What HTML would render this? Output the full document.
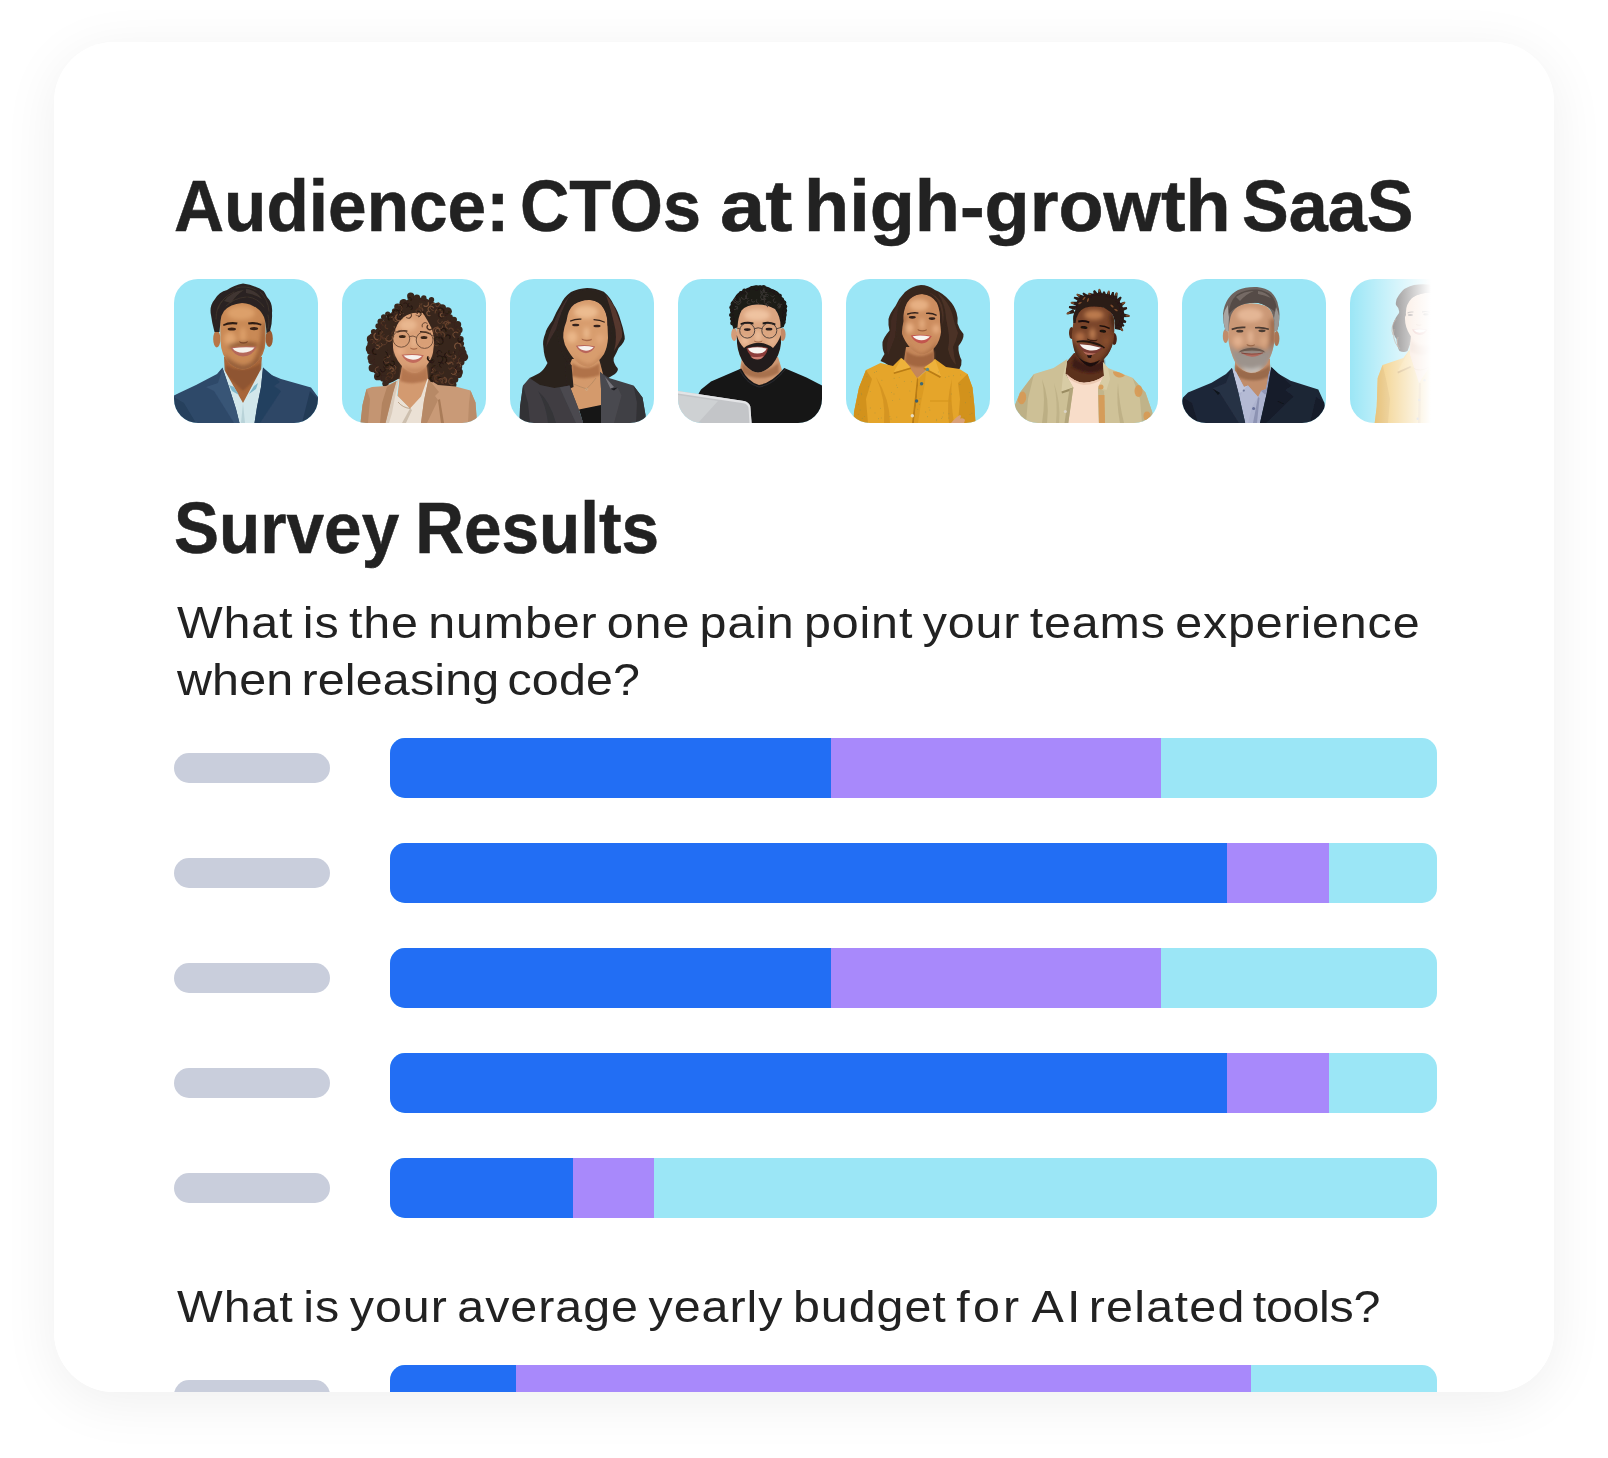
<!DOCTYPE html>
<html lang="en">
<head>
<meta charset="utf-8">
<title>Audience Survey Results</title>
<style>
  html, body { margin: 0; padding: 0; background: #ffffff; }
  body { width: 1608px; height: 1458px; position: relative; overflow: hidden;
         font-family: "Liberation Sans", sans-serif; color: #222222; }
  .card { position: absolute; left: 54px; top: 42px; width: 1500px; height: 1350px;
          background: #ffffff; border-radius: 60px; overflow: hidden; }
  .shadow { position: absolute; left: 54px; top: 42px; width: 1500px; height: 1350px;
          border-radius: 60px; box-shadow: 0 10px 56px rgba(0,0,0,0.065); }
  .abs { position: absolute; white-space: nowrap; }
  .w { position: absolute; top: 0; transform-origin: 0 0; white-space: nowrap; display: block; }
  h1, h2, p { margin: 0; }
  .h { font-weight: 700; font-size: 73px; line-height: 80px; letter-spacing: 0px; transform-origin: 0 0; -webkit-text-stroke: 0.55px #222222; }
  .q { font-weight: 400; font-size: 45px; line-height: 57px; transform-origin: 0 0; transform: scaleX(1.075); letter-spacing: 0.8px; word-spacing: -4.5px; }
  .avatars { position: absolute; left: 120px; top: 237px; width: 1262px; height: 144px; overflow: hidden; }
  .av { position: absolute; top: 0; width: 144px; height: 144px; border-radius: 24px; background: #9be6f6; overflow: hidden; }
  .av svg { display: block; position: absolute; left: 0; top: 0; }
  .fade { position: absolute; left: 1176px; top: 0; width: 90px; height: 144px;
          background: linear-gradient(90deg, rgba(255,255,255,0) 0px, rgba(255,255,255,0.5) 40px, #ffffff 81px); }
  .pill { position: absolute; left: 120px; width: 156px; height: 30px; border-radius: 15px; background: #c9cedc; }
  .bar { position: absolute; left: 336px; width: 1047px; height: 60px; border-radius: 15px; overflow: hidden; background: #9be6f6; }
  .bar i { position: absolute; top: 0; height: 60px; display: block; }
  .b { background: #226ef4; left: 0; }
  .p { background: #a889fb; }
</style>
</head>
<body>
<div class="shadow"></div>
<div class="card">
  <h1 class="abs h" id="t1" style="left:0; top:124px; width:1500px; height:80px;">
    <span class="w" style="left:120px; transform:scaleX(0.950)">Audience:</span>
    <span class="w" style="left:466px; transform:scaleX(0.936)">CTOs</span>
    <span class="w" style="left:666px; transform:scaleX(1.115)">at</span>
    <span class="w" style="left:750px; transform:scaleX(1.012)">high-growth</span>
    <span class="w" style="left:1188px; transform:scaleX(0.960)">SaaS</span>
  </h1>

  <div class="avatars" id="avatars">
    <svg width="0" height="0" style="position:absolute">
      <defs>
        <filter id="b05" x="-10%" y="-10%" width="120%" height="120%"><feGaussianBlur stdDeviation="0.5"/></filter>
        <filter id="b1" x="-20%" y="-20%" width="140%" height="140%"><feGaussianBlur stdDeviation="1"/></filter>
        <filter id="b2" x="-30%" y="-30%" width="160%" height="160%"><feGaussianBlur stdDeviation="2"/></filter>
        <filter id="b4" x="-50%" y="-50%" width="200%" height="200%"><feGaussianBlur stdDeviation="4"/></filter>
      </defs>
    </svg>

    <div class="av" style="left:0px"><svg viewBox="0 0 144 144" width="144" height="144"><g filter="url(#b05)">
  <path d="M50 78 L51 97 L69 125 L86 99 L88 78 Z" fill="#a8663a"/>
  <path d="M52 86 Q69 96 87 84 L86 96 L69 112 L52 96 Z" fill="#8f5530" filter="url(#b1)"/>
  <path d="M48.5 89 L51 92 L69 124 L86 92 L89 88.5 L89 100 L86 118 L81 144 L65 144 L58 118 L50 100 Z" fill="#d2e7eb"/>
  <path d="M55 106 L58 112 L65 116 L60 108 Z M84 104 L82 110 L75 115 L80 107 Z" fill="#7fb8cb"/>
  <path d="M69 124 L71 144 L67 144 Z" fill="#b9d3d9"/>
  <path d="M48.5 88.5 L43 95 L22 106 L5 114 L0 116.5 L0 144 L65.5 144 L62 130 L55 108 Z" fill="#2f4969"/>
  <path d="M89 88.5 L95 95 L107 100 L137 108.5 L144 118 L144 144 L80.5 144 L83 128 L87 108 Z" fill="#2d4666"/>
  <path d="M48.5 89 L55 108 L62 130 L65.5 144 L60 144 L40 112 L32 108 L44 104 Z" fill="#375476"/>
  <path d="M89 88.5 L87 108 L83 128 L80.5 144 L86 144 L107 112 L100 107 L106 103 Z" fill="#24405f"/>
  <path d="M0 118 L10 124 L22 144 L0 144 Z" fill="#26405d"/>
  <path d="M144 120 L136 112 L128 144 L144 144 Z" fill="#233a57"/>
</g>
<g filter="url(#b05)">
  <ellipse cx="42.8" cy="60" rx="3.6" ry="8.5" fill="#b87646"/>
  <ellipse cx="95.2" cy="59.5" rx="3.6" ry="8.5" fill="#9a5a30"/>
  <path d="M46 40 Q46 24 69 23 Q92 24 91.5 42 L91.5 62 Q91 76 82 84 Q75 90.5 69 90.5 Q62 90.5 55 84 Q47 76 46.5 62 Z" fill="#c98954"/>
</g>
<clipPath id="f1"><path d="M46 40 Q46 24 69 23 Q92 24 91.5 42 L91.5 62 Q91 76 82 84 Q75 90.5 69 90.5 Q62 90.5 55 84 Q47 76 46.5 62 Z"/></clipPath>
<g clip-path="url(#f1)"><g filter="url(#b2)">
  <ellipse cx="67" cy="34" rx="14" ry="7" fill="#dda06a"/>
  <ellipse cx="56" cy="60" rx="6" ry="7" fill="#e0a470"/>
  <ellipse cx="69" cy="56" rx="3" ry="8" fill="#dda06a"/>
  <path d="M88 44 L92 44 L91 70 L82 85 L78 84 Q88 70 88 44 Z" fill="#9a5c32"/>
  <path d="M50 74 Q56 84 69 87 Q82 85 88 72 L85 84 Q76 92 69 92 Q60 91 53 84 Z" fill="#8b5634"/>
  <path d="M54 66 Q69 61 84 65 L82 68 Q69 65 56 69 Z" fill="#7a4526"/>
</g></g>
<g filter="url(#b05)">
  <path d="M49 45.5 Q55 42 63.5 43.5 L63 45.5 Q55 44.5 49.5 47 Z" fill="#2e1c12"/>
  <path d="M74 43.5 Q81 42 87.5 45 L87 46.5 Q81 44.5 74.5 45.5 Z" fill="#2e1c12"/>
  <ellipse cx="57.8" cy="50" rx="4.2" ry="1.6" fill="#3a2418"/>
  <ellipse cx="80" cy="49.6" rx="4.2" ry="1.6" fill="#3a2418"/>
  <path d="M65 62 Q69 64.5 74 62 L73 64 Q69 65.5 66 64 Z" fill="#7e4a2a"/>
  <path d="M56.5 68.5 Q69 66.5 82.5 67.5 Q79 77 69 77.5 Q60 77 56.5 68.5 Z" fill="#b5675a"/>
  <path d="M58.5 69.2 Q69 67.8 80.5 68.6 Q77 73.6 69 73.8 Q61.5 73.6 58.5 69.2 Z" fill="#f6f1ec"/>
</g>
<g filter="url(#b05)">
  <path d="M40.5 53 Q38 44 37 36 Q35 27 41 20 Q45 13 53 11 Q60 6 69 4.5 Q76 5 82 8 Q90 10 93 18 Q99 24 98 34 Q98.5 44 96 52 L92.5 54 Q92 44 90 38 Q87 32 84 30 Q76 24 68 24 Q56 25 50 32 Q47 36 46.5 42 L45.5 53 Z" fill="#2a2320"/>
  <path d="M50 22 Q58 12 70 11 Q62 16 57 24 Z M72 10 Q82 11 88 20 Q80 15 72 14 Z" fill="#4a3e38" opacity="0.7"/>
  <path d="M44 30 Q48 18 60 13 M42 40 Q42 28 48 22 M62 9 Q72 6 82 11 M86 13 Q94 20 95 32 M94 36 Q96 44 94 50 M52 27 Q60 19 72 18 M74 18 Q84 19 90 28" fill="none" stroke="#40352f" stroke-width="0.8" stroke-linecap="round"/>
</g>
</svg></div>
    <div class="av" style="left:168px"><svg viewBox="0 0 144 144" width="144" height="144"><g filter="url(#b05)">
<path d="M69.2 18.0 L83.2 18.9 L96.2 25.4 L105.5 32.7 L112.9 41.9 L116.6 51.1 L118.0 60.3 L119.4 69.5 L121.3 78.7 L118.5 87.9 L115.2 96.2 L110.1 104.5 L101.8 107.2 L92.5 104.5 L88.0 100.0 L56.0 100.0 L51.5 102.6 L44.6 105.4 L35.7 96.2 L31.1 87.9 L29.7 78.7 L28.3 69.5 L28.3 61.2 L32.0 53.0 L39.4 43.8 L46.9 35.5 L56.2 28.1 Z" fill="#38251b"/>
<circle cx="68.7" cy="17.0" r="3.6" fill="#38251b"/>
<circle cx="74.9" cy="18.6" r="3.2" fill="#38251b"/>
<circle cx="81.8" cy="18.9" r="2.7" fill="#38251b"/>
<circle cx="89.5" cy="20.8" r="2.7" fill="#38251b"/>
<circle cx="96.0" cy="26.3" r="2.8" fill="#38251b"/>
<circle cx="100.0" cy="29.4" r="4.1" fill="#38251b"/>
<circle cx="105.7" cy="32.4" r="4.2" fill="#38251b"/>
<circle cx="107.8" cy="38.4" r="3.1" fill="#38251b"/>
<circle cx="111.9" cy="40.8" r="3.1" fill="#38251b"/>
<circle cx="115.7" cy="45.6" r="3.5" fill="#38251b"/>
<circle cx="117.1" cy="50.7" r="3.5" fill="#38251b"/>
<circle cx="116.0" cy="54.4" r="2.9" fill="#38251b"/>
<circle cx="118.6" cy="60.1" r="3.1" fill="#38251b"/>
<circle cx="119.0" cy="64.8" r="3.1" fill="#38251b"/>
<circle cx="120.3" cy="70.1" r="3.0" fill="#38251b"/>
<circle cx="120.6" cy="74.2" r="4.0" fill="#38251b"/>
<circle cx="122.0" cy="78.1" r="4.2" fill="#38251b"/>
<circle cx="118.7" cy="83.1" r="3.8" fill="#38251b"/>
<circle cx="117.5" cy="87.9" r="2.7" fill="#38251b"/>
<circle cx="117.4" cy="92.9" r="3.5" fill="#38251b"/>
<circle cx="116.4" cy="95.6" r="3.7" fill="#38251b"/>
<circle cx="113.0" cy="100.6" r="3.3" fill="#38251b"/>
<circle cx="111.1" cy="105.8" r="3.4" fill="#38251b"/>
<circle cx="106.4" cy="104.5" r="3.7" fill="#38251b"/>
<circle cx="102.2" cy="108.7" r="3.9" fill="#38251b"/>
<circle cx="96.5" cy="105.5" r="3.7" fill="#38251b"/>
<circle cx="91.0" cy="104.4" r="2.9" fill="#38251b"/>
<circle cx="89.1" cy="100.9" r="3.8" fill="#38251b"/>
<circle cx="43.5" cy="104.6" r="3.2" fill="#38251b"/>
<circle cx="41.3" cy="99.5" r="3.3" fill="#38251b"/>
<circle cx="35.9" cy="97.4" r="3.9" fill="#38251b"/>
<circle cx="34.5" cy="91.4" r="3.3" fill="#38251b"/>
<circle cx="30.7" cy="89.1" r="4.1" fill="#38251b"/>
<circle cx="29.3" cy="82.3" r="3.0" fill="#38251b"/>
<circle cx="28.9" cy="78.7" r="3.5" fill="#38251b"/>
<circle cx="28.3" cy="72.6" r="3.3" fill="#38251b"/>
<circle cx="27.9" cy="69.7" r="4.1" fill="#38251b"/>
<circle cx="28.9" cy="65.4" r="3.6" fill="#38251b"/>
<circle cx="28.8" cy="59.9" r="4.0" fill="#38251b"/>
<circle cx="31.0" cy="58.2" r="3.9" fill="#38251b"/>
<circle cx="31.7" cy="52.7" r="2.8" fill="#38251b"/>
<circle cx="36.1" cy="47.0" r="2.7" fill="#38251b"/>
<circle cx="38.6" cy="42.7" r="3.1" fill="#38251b"/>
<circle cx="41.8" cy="38.1" r="2.8" fill="#38251b"/>
<circle cx="45.7" cy="35.1" r="2.6" fill="#38251b"/>
<circle cx="52.7" cy="32.1" r="2.8" fill="#38251b"/>
<circle cx="55.4" cy="27.7" r="3.2" fill="#38251b"/>
<circle cx="61.6" cy="24.1" r="4.2" fill="#38251b"/>
</g>
<g filter="url(#b05)">
<path d="M61 82 L84 82 L86 100 L80 118 L68 130 L55.5 117 L57.5 100 Z" fill="#d39a70"/>
<path d="M60 88 Q72 99 85 88 L86 101 Q72 107 58 102 Z" fill="#b4764f" filter="url(#b1)"/>
<path d="M57 99.5 L55 116.5 L68 129.5 L79 117.5 L85.5 99.5 L87 101 L83 122 L79.5 144 L43 144 L51 114 L54.5 102 Z" fill="#ebe1d5"/>
<path d="M57 100 L53 118 L50 134 L47 144 L43 144 L51 114 L54.5 102 Z" fill="#d9cbbb"/>
<path d="M68 129.5 L60 144 L64 144 L70 131 Z" fill="#cdbfae"/>
<path d="M56 123 Q61 129 68.5 129.5" stroke="#8c6a45" stroke-width="0.5" fill="none"/>
<path d="M54.5 102 L44 107 L30 108 L24.5 110 L20.5 126 L18.5 144 L43.5 144 L51 114 Z" fill="#c49572"/>
<path d="M54.5 102 L51 114 L43.5 144 L38 144 L40 124 L45 108 Z" fill="#b2835f"/>
<path d="M24.5 110 L20.5 126 L18.5 144 L26 144 L28 120 Z" fill="#b58764"/>
<path d="M86.5 100 L96 106 L113.5 107.5 L128.5 111.5 L133.5 123.5 L135 144 L79 144 L82 121.5 Z" fill="#c99a77"/>
<path d="M86.5 100 L82 121.5 L79 144 L85 144 L96 121 L93 117 L97 113 Z" fill="#b78966"/>
<path d="M96 121 L99 144 L102 144 L98 120 Z" fill="#a97b58"/>
<path d="M128.5 111.5 L133.5 123.5 L135 144 L126 144 L127 124 Z" fill="#ba8c69"/>
</g>
<g filter="url(#b05)">
<path d="M53 44 Q60 34 78 33 Q90 36 92 52 L92 66 Q91.5 78 85 86 Q78 94 73 94 Q66 94 59 86 Q52 78 50.5 66 Q49 54 53 44 Z" fill="#d99f76"/>
</g>
<g filter="url(#b2)">
<ellipse cx="66" cy="46" rx="9" ry="6" fill="#e9b78f"/>
<ellipse cx="58" cy="72" rx="5" ry="5" fill="#e6ab84"/>
<ellipse cx="84" cy="73" rx="4.5" ry="5" fill="#e0a37a"/>
<ellipse cx="72" cy="63" rx="2.5" ry="6" fill="#e9b78f"/>
<path d="M60 86 Q73 95 86 85 L82 92 Q73 97 64 92 Z" fill="#bd8059"/>
</g>
<g filter="url(#b05)">
<path d="M55 52.5 Q60 50 65.5 51.5 L65.3 52.8 Q60 51.6 55.3 53.8 Z" fill="#3b2518"/>
<path d="M78 52 Q84 51.5 88.5 54.5 L88 55.6 Q84 53.2 78.2 53.4 Z" fill="#3b2518"/>
<ellipse cx="60.3" cy="57.6" rx="3.4" ry="1.5" fill="#3a2519"/>
<ellipse cx="82" cy="58.6" rx="3.4" ry="1.5" fill="#3a2519"/>
<path d="M68 68.5 Q71.5 70.5 75.5 68.8 L75 70 Q71.5 71.6 68.5 69.8 Z" fill="#a86a48"/>
<path d="M59.5 75.8 Q71 74 81.8 76.2 Q78 84 71 84 Q63.5 83.5 59.5 75.8 Z" fill="#c26b5b"/>
<path d="M61.5 76.6 Q71 75.2 80 76.9 Q77 80.6 71 80.7 Q65 80.5 61.5 76.6 Z" fill="#f7f2ee"/>
<circle cx="59.3" cy="59.8" r="8.4" fill="none" stroke="#6a4935" stroke-width="0.9"/>
<circle cx="82.6" cy="61" r="8.4" fill="none" stroke="#6a4935" stroke-width="0.9"/>
<path d="M67.4 57.6 Q71 56 74.6 58.4" fill="none" stroke="#6a4935" stroke-width="0.9"/>
<path d="M51 58.5 L48 57.5 M91 60 L94 59" stroke="#6a4935" stroke-width="0.8"/>
</g>
<g filter="url(#b05)">
<path d="M52 47 Q50 38 56 30 Q62 22 72 20 Q84 20 92 28 Q98 36 97 50 Q99 62 96 72 Q98 84 92 96 L88 100 Q92 86 91.5 72 Q93 60 90 50 Q86 42 81 34 Q70 32 62 38 Q56 42 53.5 50 Z" fill="#38251b"/>
<path d="M53.5 50 Q50 58 51 68 Q50 80 56 92 L56 100 L48 100 Q44 84 46 70 Q45 56 52 47 Z" fill="#38251b"/>
</g>
<g fill="none" stroke-linecap="round" filter="url(#b05)">
<path d="M60.1 39.8 A3.3 3.3 0 0 1 55.1 36.6" stroke="#241610" stroke-width="0.8"/>
<path d="M112.0 82.7 A2.3 2.3 0 0 1 113.9 78.8" stroke="#553523" stroke-width="1.0"/>
<path d="M105.4 41.6 A2.2 2.2 0 1 1 102.4 43.5" stroke="#553523" stroke-width="1.2"/>
<path d="M106.5 85.2 A2.2 2.2 0 0 1 110.9 85.4" stroke="#5e3d2a" stroke-width="1.3"/>
<path d="M104.1 56.9 A2.1 2.1 0 0 1 107.7 59.2" stroke="#241610" stroke-width="1.3"/>
<path d="M61.4 34.6 A2.2 2.2 0 0 1 59.0 31.0" stroke="#5e3d2a" stroke-width="1.0"/>
<path d="M90.2 89.9 A2.0 2.0 0 1 1 90.3 93.3" stroke="#553523" stroke-width="1.0"/>
<path d="M41.7 88.2 A2.4 2.4 0 1 1 38.5 90.6" stroke="#241610" stroke-width="1.0"/>
<path d="M39.1 64.2 A1.8 1.8 0 1 1 37.0 67.0" stroke="#6a452f" stroke-width="1.0"/>
<path d="M114.4 96.4 A2.2 2.2 0 0 1 113.8 92.2" stroke="#553523" stroke-width="1.2"/>
<path d="M101.6 98.8 A3.0 3.0 0 1 1 98.7 104.0" stroke="#4c3021" stroke-width="1.0"/>
<path d="M69.2 27.0 A1.8 1.8 0 0 1 69.1 30.4" stroke="#241610" stroke-width="1.1"/>
<path d="M94.8 61.5 A2.7 2.7 0 1 1 91.9 65.2" stroke="#5e3d2a" stroke-width="0.8"/>
<path d="M48.8 87.7 A2.7 2.7 0 1 1 52.5 91.2" stroke="#6a452f" stroke-width="1.0"/>
<path d="M95.9 102.9 A3.5 3.5 0 1 1 97.3 96.1" stroke="#553523" stroke-width="1.2"/>
<path d="M94.9 92.8 A3.4 3.4 0 1 1 93.1 86.5" stroke="#241610" stroke-width="0.8"/>
<path d="M37.7 56.3 A2.7 2.7 0 0 1 39.2 51.3" stroke="#241610" stroke-width="0.8"/>
<path d="M46.0 101.3 A2.0 2.0 0 1 1 48.0 98.7" stroke="#4c3021" stroke-width="0.9"/>
<path d="M37.2 49.9 A3.4 3.4 0 0 1 35.5 56.5" stroke="#4c3021" stroke-width="1.0"/>
<path d="M58.0 41.4 A3.2 3.2 0 1 1 58.5 35.8" stroke="#7a5138" stroke-width="1.3"/>
<path d="M90.5 90.2 A2.0 2.0 0 0 1 89.5 93.7" stroke="#6a452f" stroke-width="1.0"/>
<path d="M37.4 65.2 A2.2 2.2 0 0 1 33.5 63.5" stroke="#5e3d2a" stroke-width="0.8"/>
<path d="M77.1 28.7 A2.6 2.6 0 0 1 80.2 32.7" stroke="#5e3d2a" stroke-width="1.3"/>
<path d="M75.1 32.9 A2.6 2.6 0 1 1 76.7 37.7" stroke="#241610" stroke-width="1.0"/>
<path d="M55.3 34.0 A2.2 2.2 0 1 1 56.0 30.2" stroke="#4c3021" stroke-width="0.9"/>
<path d="M102.3 37.1 A2.1 2.1 0 1 1 100.3 34.0" stroke="#7a5138" stroke-width="1.1"/>
<path d="M41.0 46.1 A2.0 2.0 0 1 1 42.6 42.7" stroke="#553523" stroke-width="1.0"/>
<path d="M51.4 33.2 A2.9 2.9 0 1 1 56.0 36.0" stroke="#241610" stroke-width="1.2"/>
<path d="M96.7 58.8 A2.3 2.3 0 0 1 100.7 60.7" stroke="#241610" stroke-width="1.1"/>
<path d="M107.7 90.4 A3.3 3.3 0 1 1 110.6 95.4" stroke="#553523" stroke-width="0.8"/>
<path d="M50.3 38.0 A2.6 2.6 0 1 1 47.9 34.3" stroke="#6a452f" stroke-width="1.1"/>
<path d="M50.0 82.2 A2.2 2.2 0 1 1 48.2 85.3" stroke="#241610" stroke-width="1.2"/>
<path d="M87.7 32.7 A2.9 2.9 0 1 1 91.5 28.7" stroke="#7a5138" stroke-width="1.1"/>
<path d="M38.8 58.7 A2.7 2.7 0 0 1 34.5 61.3" stroke="#553523" stroke-width="1.1"/>
<path d="M86.3 23.7 A2.7 2.7 0 0 1 82.0 26.7" stroke="#7a5138" stroke-width="1.2"/>
<path d="M93.2 33.9 A3.4 3.4 0 0 1 98.5 30.8" stroke="#5e3d2a" stroke-width="1.3"/>
<path d="M91.6 52.9 A3.1 3.1 0 0 1 96.7 49.5" stroke="#6a452f" stroke-width="1.2"/>
<path d="M49.4 39.6 A2.7 2.7 0 0 1 47.1 34.7" stroke="#241610" stroke-width="1.2"/>
<path d="M111.3 73.1 A3.4 3.4 0 1 1 104.6 74.7" stroke="#6a452f" stroke-width="0.7"/>
<path d="M97.7 53.5 A3.2 3.2 0 0 1 102.2 57.8" stroke="#5e3d2a" stroke-width="1.2"/>
<path d="M79.8 29.9 A2.5 2.5 0 0 1 79.9 24.9" stroke="#7a5138" stroke-width="0.9"/>
<path d="M49.5 61.3 A3.0 3.0 0 1 1 46.3 56.5" stroke="#6a452f" stroke-width="0.8"/>
<path d="M119.9 59.5 A2.2 2.2 0 1 1 116.3 59.4" stroke="#241610" stroke-width="1.0"/>
<path d="M78.1 34.2 A2.1 2.1 0 0 1 82.2 35.1" stroke="#241610" stroke-width="0.9"/>
<path d="M98.9 51.7 A2.5 2.5 0 0 1 104.0 52.2" stroke="#241610" stroke-width="1.2"/>
<path d="M91.4 51.9 A2.4 2.4 0 1 1 88.1 54.0" stroke="#4c3021" stroke-width="0.7"/>
<path d="M94.9 100.0 A2.7 2.7 0 0 1 99.7 100.3" stroke="#241610" stroke-width="1.3"/>
<path d="M107.1 32.5 A2.1 2.1 0 0 1 103.7 34.4" stroke="#241610" stroke-width="0.8"/>
<path d="M34.9 66.3 A1.9 1.9 0 1 1 33.8 69.2" stroke="#7a5138" stroke-width="1.0"/>
<path d="M47.9 90.2 A1.8 1.8 0 1 1 49.8 92.4" stroke="#7a5138" stroke-width="1.3"/>
<path d="M90.6 102.8 A2.7 2.7 0 0 1 89.1 97.8" stroke="#241610" stroke-width="1.1"/>
<path d="M69.2 34.9 A3.0 3.0 0 0 1 64.7 38.6" stroke="#5e3d2a" stroke-width="1.1"/>
<path d="M100.7 47.1 A2.5 2.5 0 0 1 95.7 47.6" stroke="#6a452f" stroke-width="0.8"/>
<path d="M47.7 86.9 A2.3 2.3 0 1 1 43.2 87.9" stroke="#4c3021" stroke-width="1.2"/>
<path d="M40.3 58.7 A3.1 3.1 0 0 1 40.6 52.9" stroke="#6a452f" stroke-width="1.3"/>
<path d="M56.8 25.4 A3.5 3.5 0 0 1 59.6 31.1" stroke="#241610" stroke-width="1.2"/>
<path d="M113.5 69.4 A3.2 3.2 0 1 1 119.0 67.2" stroke="#7a5138" stroke-width="1.2"/>
<path d="M109.9 88.6 A1.9 1.9 0 0 1 106.5 89.2" stroke="#5e3d2a" stroke-width="0.9"/>
<path d="M100.9 104.0 A2.4 2.4 0 1 1 103.5 101.0" stroke="#5e3d2a" stroke-width="0.9"/>
<path d="M100.3 42.3 A2.3 2.3 0 1 1 96.3 40.7" stroke="#6a452f" stroke-width="0.7"/>
<path d="M50.2 57.5 A3.5 3.5 0 0 1 43.5 59.8" stroke="#7a5138" stroke-width="1.2"/>
<path d="M96.8 23.7 A2.2 2.2 0 1 1 93.8 27.0" stroke="#6a452f" stroke-width="1.0"/>
<path d="M62.0 24.3 A2.5 2.5 0 1 1 64.8 28.5" stroke="#241610" stroke-width="0.8"/>
<path d="M65.8 19.4 A1.9 1.9 0 0 1 69.1 21.3" stroke="#241610" stroke-width="1.0"/>
<path d="M95.3 56.7 A2.2 2.2 0 1 1 99.4 55.4" stroke="#553523" stroke-width="1.1"/>
<path d="M112.9 76.1 A2.0 2.0 0 0 1 111.2 79.7" stroke="#7a5138" stroke-width="0.9"/>
<path d="M100.3 32.6 A2.2 2.2 0 0 1 98.9 28.5" stroke="#553523" stroke-width="0.9"/>
<path d="M73.9 30.9 A3.3 3.3 0 1 1 73.9 36.2" stroke="#6a452f" stroke-width="0.7"/>
<path d="M28.3 61.0 A2.1 2.1 0 1 1 30.3 64.4" stroke="#5e3d2a" stroke-width="0.8"/>
<path d="M45.7 49.6 A2.1 2.1 0 0 1 43.8 46.0" stroke="#553523" stroke-width="1.2"/>
<path d="M107.0 50.0 A2.5 2.5 0 0 1 111.3 51.7" stroke="#5e3d2a" stroke-width="1.2"/>
<path d="M94.9 54.0 A2.3 2.3 0 1 1 98.0 51.7" stroke="#7a5138" stroke-width="1.1"/>
<path d="M115.9 50.4 A1.8 1.8 0 1 1 114.2 53.3" stroke="#553523" stroke-width="0.9"/>
<path d="M69.7 27.0 A2.0 2.0 0 1 1 66.8 24.4" stroke="#241610" stroke-width="1.0"/>
<path d="M89.6 50.0 A2.7 2.7 0 0 1 85.7 46.3" stroke="#4c3021" stroke-width="1.3"/>
<path d="M36.7 59.4 A3.2 3.2 0 0 1 31.1 62.2" stroke="#4c3021" stroke-width="1.2"/>
<path d="M95.3 77.6 A3.4 3.4 0 1 1 96.7 83.5" stroke="#241610" stroke-width="1.1"/>
<path d="M45.5 59.0 A2.8 2.8 0 1 1 42.3 55.5" stroke="#4c3021" stroke-width="0.9"/>
<path d="M97.1 100.8 A1.9 1.9 0 1 1 99.7 103.2" stroke="#5e3d2a" stroke-width="1.1"/>
<path d="M104.5 78.6 A2.4 2.4 0 0 1 104.3 73.9" stroke="#241610" stroke-width="1.0"/>
<path d="M43.8 88.7 A3.2 3.2 0 0 1 49.1 85.6" stroke="#241610" stroke-width="0.9"/>
<path d="M102.4 98.4 A3.0 3.0 0 0 1 103.6 103.6" stroke="#6a452f" stroke-width="1.3"/>
<path d="M101.7 92.9 A2.1 2.1 0 1 1 97.5 93.1" stroke="#4c3021" stroke-width="1.1"/>
<path d="M95.9 30.4 A3.3 3.3 0 0 1 101.6 33.6" stroke="#241610" stroke-width="1.2"/>
<path d="M49.1 93.2 A2.1 2.1 0 1 1 52.1 95.0" stroke="#553523" stroke-width="1.1"/>
<path d="M88.1 36.6 A2.5 2.5 0 0 1 86.4 31.9" stroke="#7a5138" stroke-width="1.1"/>
<path d="M80.2 47.9 A3.2 3.2 0 0 1 85.1 44.2" stroke="#5e3d2a" stroke-width="0.9"/>
<path d="M99.1 88.3 A2.2 2.2 0 1 1 101.1 84.5" stroke="#241610" stroke-width="1.0"/>
<path d="M47.9 76.6 A1.8 1.8 0 0 1 44.3 76.9" stroke="#6a452f" stroke-width="1.0"/>
<path d="M109.4 83.2 A2.6 2.6 0 0 1 104.4 82.7" stroke="#7a5138" stroke-width="0.9"/>
<path d="M103.0 36.3 A3.4 3.4 0 1 1 96.8 33.7" stroke="#241610" stroke-width="0.8"/>
<path d="M34.1 75.3 A3.0 3.0 0 0 1 32.1 69.7" stroke="#241610" stroke-width="1.2"/>
<path d="M119.4 90.0 A3.1 3.1 0 1 1 114.5 87.3" stroke="#241610" stroke-width="0.7"/>
<path d="M91.2 31.5 A3.6 3.6 0 1 1 93.4 24.8" stroke="#6a452f" stroke-width="0.9"/>
<path d="M100.7 77.7 A3.3 3.3 0 0 1 103.3 83.6" stroke="#241610" stroke-width="1.1"/>
<path d="M77.7 24.4 A3.4 3.4 0 0 1 75.5 30.7" stroke="#4c3021" stroke-width="1.1"/>
<path d="M54.5 31.9 A3.4 3.4 0 1 1 57.4 37.8" stroke="#241610" stroke-width="1.0"/>
<path d="M44.3 102.3 A3.2 3.2 0 1 1 49.8 99.2" stroke="#4c3021" stroke-width="0.8"/>
<path d="M92.1 82.4 A3.1 3.1 0 1 1 86.9 78.9" stroke="#241610" stroke-width="0.8"/>
<path d="M91.6 96.7 A3.2 3.2 0 0 1 93.5 102.7" stroke="#553523" stroke-width="0.8"/>
<path d="M113.2 90.2 A2.9 2.9 0 1 1 109.5 94.6" stroke="#7a5138" stroke-width="1.0"/>
<path d="M35.2 93.6 A3.0 3.0 0 0 1 36.3 87.8" stroke="#7a5138" stroke-width="0.7"/>
<path d="M47.1 41.1 A3.1 3.1 0 0 1 50.7 36.1" stroke="#241610" stroke-width="1.2"/>
<path d="M101.0 44.6 A3.1 3.1 0 0 1 106.9 44.7" stroke="#6a452f" stroke-width="1.0"/>
<path d="M51.8 57.1 A2.7 2.7 0 1 1 54.7 52.9" stroke="#5e3d2a" stroke-width="0.7"/>
<path d="M46.8 83.1 A2.7 2.7 0 1 1 43.7 78.9" stroke="#6a452f" stroke-width="1.0"/>
<path d="M115.0 84.0 A2.6 2.6 0 0 1 118.3 87.8" stroke="#7a5138" stroke-width="0.9"/>
<path d="M119.4 59.5 A2.5 2.5 0 0 1 116.5 63.4" stroke="#241610" stroke-width="0.8"/>
<path d="M112.8 58.4 A2.8 2.8 0 1 1 115.4 53.5" stroke="#7a5138" stroke-width="1.0"/>
<path d="M35.6 60.5 A3.4 3.4 0 0 1 33.5 54.3" stroke="#7a5138" stroke-width="1.2"/>
<path d="M112.7 72.5 A3.1 3.1 0 1 1 106.9 71.5" stroke="#241610" stroke-width="0.8"/>
<path d="M56.3 25.8 A3.6 3.6 0 0 1 59.4 31.6" stroke="#6a452f" stroke-width="0.8"/>
<path d="M55.8 41.8 A2.3 2.3 0 1 1 54.4 38.1" stroke="#7a5138" stroke-width="0.8"/>
<path d="M92.6 61.7 A2.9 2.9 0 0 1 97.4 58.8" stroke="#241610" stroke-width="0.7"/>
<path d="M45.1 95.4 A3.1 3.1 0 1 1 49.3 99.6" stroke="#553523" stroke-width="1.1"/>
<path d="M88.6 98.0 A3.0 3.0 0 0 1 94.1 99.8" stroke="#4c3021" stroke-width="1.1"/>
<path d="M95.6 75.3 A2.3 2.3 0 1 1 99.6 73.3" stroke="#241610" stroke-width="1.0"/>
<path d="M90.5 102.1 A3.4 3.4 0 0 1 90.7 95.9" stroke="#241610" stroke-width="1.2"/>
<path d="M46.2 86.4 A3.5 3.5 0 0 1 43.4 80.0" stroke="#241610" stroke-width="1.0"/>
<path d="M99.4 59.6 A3.0 3.0 0 1 1 96.1 64.5" stroke="#241610" stroke-width="1.1"/>
<path d="M41.0 59.0 A3.5 3.5 0 1 1 40.5 65.8" stroke="#5e3d2a" stroke-width="0.9"/>
<path d="M90.8 80.6 A2.8 2.8 0 0 1 86.0 77.7" stroke="#241610" stroke-width="1.3"/>
<path d="M75.3 34.4 A3.2 3.2 0 0 1 79.2 29.4" stroke="#4c3021" stroke-width="1.3"/>
<path d="M43.7 72.7 A3.1 3.1 0 0 1 43.1 78.5" stroke="#241610" stroke-width="1.0"/>
<path d="M36.7 93.1 A2.4 2.4 0 0 1 34.6 97.4" stroke="#241610" stroke-width="1.1"/>
<path d="M105.4 49.2 A3.0 3.0 0 1 1 108.3 44.0" stroke="#6a452f" stroke-width="1.1"/>
<path d="M111.8 104.9 A3.2 3.2 0 1 1 110.4 99.2" stroke="#5e3d2a" stroke-width="1.1"/>
<path d="M42.5 59.2 A3.2 3.2 0 0 1 40.7 53.0" stroke="#4c3021" stroke-width="1.1"/>
<path d="M112.4 79.8 A2.0 2.0 0 0 1 109.5 77.1" stroke="#4c3021" stroke-width="1.0"/>
<path d="M119.1 83.4 A2.2 2.2 0 1 1 117.6 79.2" stroke="#5e3d2a" stroke-width="0.8"/>
</g></svg></div>
    <div class="av" style="left:336px"><svg viewBox="0 0 144 144" width="144" height="144"><g filter="url(#b05)">
  <path d="M77 9 Q68 9.5 61 13 Q54 18 51 25 Q46 33 42.5 41.5 Q36 50 35.5 54 Q32 62 33.5 69 Q34 78 37.5 84 Q34 91 29.5 94 Q24 97 19.5 99 L30 112 L44.5 114 L60 112 L90 104 L105 95 Q109 91 107.5 89 Q103 84 103.7 79 Q107 73 108.6 69 Q116 62 114.6 57 Q113 48 110.6 41.5 Q108 32 103.7 25.7 Q100 18 93.8 12.8 Q86 9 77 9 Z" fill="#2c211f"/>
  <path d="M96 16 Q104 24 108 38 Q113 50 112 58 Q108 66 104 72 Q108 58 104 44 Q101 30 96 16 Z" fill="#5e3d30" opacity="0.85"/>
  <path d="M60 16 Q50 28 44 44 Q38 56 36 68 Q40 60 46 50 Q50 34 60 16 Z" fill="#4a3630" opacity="0.7"/>
</g>
<g filter="url(#b05)">
  <path d="M62 80 L58 90 L58 110 L68 132 L93 128 L93 95 L89 80 Z" fill="#d49a6c"/>
  <path d="M62 84 Q76 94 89.5 84 L90 96 Q76 102 62 97 Z" fill="#b0724a" filter="url(#b1)"/>
  <path d="M55 84 L61.5 86 L63.5 108 L57 111 Z" fill="#2c211f"/>
  <path d="M69 130.5 L91 126 L91 144 L73 144 Z" fill="#131315"/>
  <path d="M63.5 105 Q70 108 76.5 109.8 Q82 105 86 99" fill="none" stroke="#9a7c5a" stroke-width="0.45"/>
  <circle cx="76.6" cy="110.4" r="1.1" fill="none" stroke="#c9b79a" stroke-width="0.45"/>
  <path d="M19.5 99 L13 106.5 L10 128 L9.5 144 L73.2 144 L68 128.5 L59.5 106.5 L44.5 109 L30 106 Z" fill="#3f3e43"/>
  <path d="M59.5 106.5 L68 128.5 L73.2 144 L66 144 L55 120 L50 108.5 Z" fill="#4b4a50"/>
  <path d="M13 106.5 L10 128 L9.5 144 L20 144 L18 124 Z" fill="#323136"/>
  <path d="M28 112 Q40 122 46 144 L38 144 Q36 126 28 112 Z" fill="#353439"/>
  <path d="M90 93 L99 99 L123.5 106.5 L132.5 118.5 L135.5 136 L135.5 144 L91 144 L91 110 Z" fill="#403f44"/>
  <path d="M90 93 L96 98 L104 108 L100.5 109.8 L107.7 108.6 L111.5 116.5 L104 144 L91 144 L91 110 Z" fill="#4a494f"/>
  <path d="M95 98 L104 108 L100.5 109.8 Z" fill="#77767c"/>
  <path d="M100.5 109.8 L107.7 108.6 L104 111.5 Z" fill="#1d1d20"/>
  <path d="M123.5 106.5 L132.5 118.5 L135.5 136 L135.5 144 L126 144 L127 124 Z" fill="#323136"/>
</g>
<g filter="url(#b05)">
  <path d="M55.5 40 Q58 28 64 25 Q72 20 80 20.5 Q90 22 93.5 29 Q98 36 97.5 46 L98 59 Q97.5 68 94 75 Q88 84 79.5 88 Q72 88 66 82 Q60 76 55 66 Q52 58 52.5 50 Z" fill="#d89d6e"/>
</g>
<clipPath id="f3"><path d="M55.5 40 Q58 28 64 25 Q72 20 80 20.5 Q90 22 93.5 29 Q98 36 97.5 46 L98 59 Q97.5 68 94 75 Q88 84 79.5 88 Q72 88 66 82 Q60 76 55 66 Q52 58 52.5 50 Z"/></clipPath>
<g clip-path="url(#f3)"><g filter="url(#b2)">
  <ellipse cx="76" cy="33" rx="12" ry="6.5" fill="#ecbc90"/>
  <ellipse cx="62" cy="58" rx="5.5" ry="6" fill="#eab688"/>
  <ellipse cx="90" cy="60" rx="4" ry="5" fill="#e2a97c"/>
  <ellipse cx="76.5" cy="54" rx="2.6" ry="6" fill="#ecbc90"/>
  <path d="M62 76 Q72 86 80 86 Q90 82 95 70 L92 80 Q84 90 78 89 Q68 88 62 76 Z" fill="#b87a50"/>
</g></g>
<g filter="url(#b05)">
  <path d="M60 41.5 Q65.5 39 71.5 39.6 L71.3 40.8 Q65.5 40.5 60.3 42.8 Z" fill="#33211a"/>
  <path d="M83.5 40 Q90 40 95 42.8 L94.6 43.8 Q90 41.4 83.7 41.3 Z" fill="#33211a"/>
  <ellipse cx="65.7" cy="46" rx="3.6" ry="1.3" fill="#35221b"/>
  <ellipse cx="87" cy="47" rx="3.6" ry="1.3" fill="#35221b"/>
  <path d="M71.5 59.5 Q76.5 62 82 59.8 L81.5 61.2 Q76.5 63.2 72 61 Z" fill="#a86846"/>
  <path d="M65.8 66.8 Q76 65 85.2 67.6 Q82 74 76 74.2 Q69.5 73.8 65.8 66.8 Z" fill="#b9655a"/>
  <path d="M67.6 67.6 Q76 66.2 83.6 68.2 Q80.8 71.6 76 71.7 Q70.5 71.4 67.6 67.6 Z" fill="#f7f2ee"/>
</g>
<g filter="url(#b05)">
  <path d="M56.5 42 Q58 30 64 25.5 Q72 20.5 80 21 Q90 22 94 30 Q97.5 37 97.5 46 Q100 52 99 62 Q104 50 102 38 Q99 24 92 16 Q84 10 76 11 Q64 12 57 22 Q51 32 49 44 Q46 56 50 66 Q52 76 58 84 L62 88 Q56 76 54 66 Q51.5 54 56.5 42 Z" fill="#2c211f"/>
</g>
</svg></div>
    <div class="av" style="left:504px"><svg viewBox="0 0 144 144" width="144" height="144"><g filter="url(#b05)">
<path d="M64 78 L62 91 Q70 106 81 108 Q94 106 104 91 L100 78 Z" fill="#cf9872"/>
<path d="M64 84 Q81 100 100.5 84 L101 94 Q82 104 64 94 Z" fill="#a8714e" filter="url(#b1)"/>
<path d="M63.2 89.5 Q70 103 81 106 Q94 104 106.2 89 L128.5 98.5 L144 106.5 L144 144 L20 144 L20.7 114.5 L23 110.5 L33 102.5 Z" fill="#151517"/>
<path d="M61.5 90.5 Q69 105 81 108 Q95 106 107.5 90" fill="none" stroke="#2a2a2d" stroke-width="1.2"/>
<path d="M0 112 L66 122 Q71 123 72.3 127.5 L73.6 144 L0 144 Z" fill="#c3c5c8"/>
<path d="M0 112 L66 122 Q71 123 72.3 127.5 L73.6 144 L71.5 144 L70.5 128.5 Q69.5 125 65.5 124.2 L0 114.5 Z" fill="#e3e4e6"/>
<path d="M0 116 L40 122 L20 144 L0 144 Z" fill="#d3d5d7" opacity="0.7"/>
</g>
<g filter="url(#b05)">
<ellipse cx="56.2" cy="55.5" rx="3" ry="6.5" fill="#d49c78"/>
<ellipse cx="104.6" cy="55.5" rx="3" ry="6.5" fill="#c48a66"/>
<path d="M58.5 40 Q60 28 70 26 Q80 24 92 26 Q102 29 103 42 L103 62 Q102 76 94 86 Q86 93.5 80 93.5 Q74 93.5 67 86 Q60 76 59 62 Z" fill="#dba580"/>
</g>
<clipPath id="f4"><path d="M58.5 40 Q60 28 70 26 Q80 24 92 26 Q102 29 103 42 L103 62 Q102 76 94 86 Q86 93.5 80 93.5 Q74 93.5 67 86 Q60 76 59 62 Z"/></clipPath>
<g clip-path="url(#f4)"><g filter="url(#b2)">
<ellipse cx="79" cy="36" rx="13" ry="6" fill="#efc3a0"/>
<ellipse cx="67" cy="62" rx="4.5" ry="4" fill="#efbf9b"/>
<ellipse cx="94" cy="62" rx="4.5" ry="4" fill="#e6b38e"/>
<ellipse cx="80" cy="57" rx="2.5" ry="6" fill="#efc3a0"/>
</g></g>
<g filter="url(#b05)">
<path d="M58.8 56 Q61 64 66 69 Q68 66.5 72 65.5 Q80 62 89 65.5 Q93 66.5 95 69 Q100 64 102.8 56 L103 64 Q102 76 94 86 Q86 93.5 80 93.5 Q74 93.5 67 86 Q60 76 59 64 Z" fill="#241d1a"/>
<path d="M68.5 69 Q80 66 90 69 Q88 79.5 79.5 79.5 Q71 79 68.5 69 Z" fill="#8d3e3a"/>
<path d="M69.8 69.4 Q80 67.2 88.8 69.6 Q86.5 74.4 79.5 74.6 Q72.5 74.2 69.8 69.4 Z" fill="#f8f4f0"/>
<path d="M72.5 77.2 Q79.5 79 86 77 Q83.5 80.5 79.5 80.6 Q75 80.4 72.5 77.2 Z" fill="#cf7f72"/>
<path d="M62.5 44.2 Q69 41.6 75.5 43.6 L75.3 45.4 Q69 43.6 62.8 46 Z" fill="#1f1917"/>
<path d="M84.5 43.6 Q91 41.6 97.5 44.6 L97.2 46.4 Q91 43.8 84.8 45.4 Z" fill="#1f1917"/>
<ellipse cx="69.3" cy="50.6" rx="3.4" ry="1.4" fill="#2a1f1b"/>
<ellipse cx="91" cy="50.2" rx="3.4" ry="1.4" fill="#2a1f1b"/>
<path d="M76 61.5 Q80 63.5 84.5 61.6 L84 62.8 Q80 64.6 76.4 62.8 Z" fill="#a8704e"/>
<circle cx="69.2" cy="51.6" r="7.5" fill="none" stroke="#3a322f" stroke-width="0.85"/>
<circle cx="91.3" cy="51.6" r="7.5" fill="none" stroke="#3a322f" stroke-width="0.85"/>
<path d="M76.6 49.6 Q80.2 48 83.9 49.6" fill="none" stroke="#3a322f" stroke-width="0.85"/>
<path d="M61.8 49.8 L56.2 48.2 M98.7 49.8 L103.6 48.2" stroke="#3a322f" stroke-width="0.8"/>
</g>
<g filter="url(#b05)">
<path d="M55.5 50 Q52 42 52.5 34 Q51 26 55.5 20 Q60 12 68 10 Q74 5.5 80 6.5 Q88 6 94 10 Q101 12 104 18 Q109.5 24 108.5 30 Q109 40 105.8 48 L102.5 49 Q103 38 97 30 Q88 25 79 25.5 Q68 26 63.5 31.5 Q60 38 59.5 48 Z" fill="#1c1a19"/>
<circle cx="54.4" cy="44.1" r="2.3" fill="#1c1a19"/>
<circle cx="54.0" cy="40.0" r="2.1" fill="#1c1a19"/>
<circle cx="53.1" cy="36.0" r="2.1" fill="#1c1a19"/>
<circle cx="53.9" cy="31.5" r="1.8" fill="#1c1a19"/>
<circle cx="53.5" cy="28.4" r="2.2" fill="#1c1a19"/>
<circle cx="55.0" cy="24.6" r="2.4" fill="#1c1a19"/>
<circle cx="57.7" cy="20.6" r="1.7" fill="#1c1a19"/>
<circle cx="59.4" cy="17.0" r="1.6" fill="#1c1a19"/>
<circle cx="62.6" cy="13.7" r="1.6" fill="#1c1a19"/>
<circle cx="66.5" cy="11.9" r="2.3" fill="#1c1a19"/>
<circle cx="70.0" cy="10.7" r="2.0" fill="#1c1a19"/>
<circle cx="74.2" cy="8.9" r="1.8" fill="#1c1a19"/>
<circle cx="78.6" cy="8.9" r="2.3" fill="#1c1a19"/>
<circle cx="82.2" cy="8.0" r="1.8" fill="#1c1a19"/>
<circle cx="85.7" cy="8.1" r="2.2" fill="#1c1a19"/>
<circle cx="89.9" cy="10.4" r="1.9" fill="#1c1a19"/>
<circle cx="94.5" cy="11.9" r="1.6" fill="#1c1a19"/>
<circle cx="97.7" cy="14.0" r="2.0" fill="#1c1a19"/>
<circle cx="102.1" cy="16.4" r="1.7" fill="#1c1a19"/>
<circle cx="104.2" cy="20.3" r="1.8" fill="#1c1a19"/>
<circle cx="106.0" cy="23.8" r="2.4" fill="#1c1a19"/>
<circle cx="107.5" cy="27.5" r="1.8" fill="#1c1a19"/>
<circle cx="106.9" cy="31.5" r="2.2" fill="#1c1a19"/>
<circle cx="106.6" cy="36.1" r="2.0" fill="#1c1a19"/>
<circle cx="106.1" cy="40.3" r="1.7" fill="#1c1a19"/>
<circle cx="105.7" cy="43.5" r="1.9" fill="#1c1a19"/>
</g>
<g fill="none" stroke-linecap="round" filter="url(#b05)">
<path d="M67.5 12.1 A2.8 2.8 0 0 1 67.4 17.3" stroke="#3d3835" stroke-width="0.9"/>
<path d="M88.7 13.8 A2.8 2.8 0 0 1 85.9 9.4" stroke="#3d3835" stroke-width="0.9"/>
<path d="M96.3 16.7 A1.9 1.9 0 0 1 93.0 16.8" stroke="#3d3835" stroke-width="0.9"/>
<path d="M83.6 15.8 A2.3 2.3 0 0 1 86.1 12.0" stroke="#3d3835" stroke-width="0.9"/>
<path d="M102.1 27.9 A1.8 1.8 0 1 1 101.1 24.4" stroke="#3d3835" stroke-width="0.9"/>
<path d="M101.5 28.6 A2.3 2.3 0 0 1 103.8 25.3" stroke="#3d3835" stroke-width="0.9"/>
<path d="M57.4 27.5 A1.8 1.8 0 0 1 59.4 30.2" stroke="#3d3835" stroke-width="0.9"/>
<path d="M98.0 23.2 A1.9 1.9 0 1 1 96.6 19.7" stroke="#3d3835" stroke-width="0.9"/>
<path d="M87.5 17.5 A2.7 2.7 0 0 1 84.1 14.4" stroke="#3d3835" stroke-width="0.9"/>
<path d="M70.2 19.8 A1.6 1.6 0 0 1 68.2 17.4" stroke="#3d3835" stroke-width="0.9"/>
<path d="M86.1 10.5 A2.0 2.0 0 1 1 82.6 11.9" stroke="#3d3835" stroke-width="0.9"/>
<path d="M90.3 25.3 A2.3 2.3 0 0 1 86.6 24.0" stroke="#3d3835" stroke-width="0.9"/>
<path d="M59.2 27.5 A2.4 2.4 0 0 1 56.3 30.5" stroke="#3d3835" stroke-width="0.9"/>
<path d="M86.8 21.4 A2.4 2.4 0 1 1 90.0 18.0" stroke="#3d3835" stroke-width="0.9"/>
<path d="M61.7 19.0 A2.5 2.5 0 1 1 57.5 21.5" stroke="#3d3835" stroke-width="0.9"/>
<path d="M89.6 27.8 A2.7 2.7 0 1 1 93.0 23.7" stroke="#3d3835" stroke-width="0.9"/>
<path d="M101.6 25.3 A2.0 2.0 0 1 1 99.8 28.9" stroke="#3d3835" stroke-width="0.9"/>
<path d="M82.9 21.1 A2.0 2.0 0 0 1 86.4 23.0" stroke="#3d3835" stroke-width="0.9"/>
<path d="M62.0 20.5 A2.8 2.8 0 1 1 57.7 24.0" stroke="#3d3835" stroke-width="0.9"/>
<path d="M87.3 19.6 A2.6 2.6 0 1 1 83.1 16.5" stroke="#3d3835" stroke-width="0.9"/>
<path d="M57.8 23.7 A2.1 2.1 0 1 1 57.5 19.5" stroke="#3d3835" stroke-width="0.9"/>
<path d="M80.8 24.6 A2.7 2.7 0 0 1 78.5 20.6" stroke="#3d3835" stroke-width="0.9"/>
<path d="M71.9 24.8 A1.8 1.8 0 1 1 71.0 21.5" stroke="#3d3835" stroke-width="0.9"/>
<path d="M87.8 20.6 A2.7 2.7 0 1 1 90.4 16.0" stroke="#3d3835" stroke-width="0.9"/>
<path d="M68.1 16.7 A2.5 2.5 0 1 1 63.4 18.3" stroke="#3d3835" stroke-width="0.9"/>
<path d="M76.5 22.7 A1.9 1.9 0 0 1 73.7 20.2" stroke="#3d3835" stroke-width="0.9"/>
</g></svg></div>
    <div class="av" style="left:672px"><svg viewBox="0 0 144 144" width="144" height="144"><g filter="url(#b05)">
<path d="M75 6 Q66 7 59 13 Q53 19 49.5 27 Q44 34 42.5 40 Q42 46 43.5 51.5 Q38 58 36.5 63 Q36 70 38.5 75 Q36 79 34.5 82 Q40 84 43.5 87 L46.5 92 L60 92 L100 90 L104 89 Q110 91 113.5 90 Q116 86 115.5 81 Q112 74 112.5 67 Q118 60 117.5 55 Q113 50 111.5 44.5 Q112 38 110.5 33.5 Q108 26 103.5 21.5 Q97 14 89 11 Q82 6 75 6 Z" fill="#38261e"/>
<path d="M92 14 Q102 22 106 34 Q108 44 112 54 Q110 62 107 68 Q108 78 110 86 Q104 80 102 70 Q104 60 102 50 Q100 36 92 14 Z" fill="#5a3a29" opacity="0.6"/>
<path d="M56 18 Q48 30 45 42 Q46 52 42 60 Q40 68 42 76 Q46 66 49 58 Q50 44 56 18 Z" fill="#4a3024" opacity="0.6"/>
</g>
<g filter="url(#b05)">
<path d="M60 68 L58 82 L71 100 L88 84 L87.5 68 Z" fill="#c4865a"/>
<path d="M60 72 Q74 82 88 72 L88 84 Q74 92 59 84 Z" fill="#a3663f" filter="url(#b1)"/>
<path d="M55 79 L47 87 L34.5 84 L20 91 L13 108.5 L8 133 L7.5 144 L129.5 144 L128.5 128 L126.5 108.5 L121.5 95 L113.5 90 L100 88 L89 80 L80 92 L71 99 L64 89 Z" fill="#e5a52b"/>
<path d="M20 91 L13 108.5 L8 133 L7.5 144 L22 144 L20 120 L26 100 Z" fill="#d2921f"/>
<path d="M121.5 95 L126.5 108.5 L128.5 128 L129.5 144 L112 144 L114 120 L112 104 Z" fill="#d2921f"/>
<path d="M30 98 Q40 120 38 144 L44 144 Q44 120 30 98 Z" fill="#cf8f1d" opacity="0.7"/>
<path d="M106 100 Q104 120 108 144 L103 144 Q100 122 106 100 Z" fill="#cf8f1d" opacity="0.7"/>
<path d="M55.5 79 L47.5 93.5 L64.5 88.5 L59 82 Z" fill="#eeb23a"/>
<path d="M89 80 L95 97.5 L78 88.5 L86 83 Z" fill="#eeb23a"/>
<path d="M47.5 93.5 L64.5 88.5 L65 90 L48 95 Z M95 97.5 L78 88.5 L77.5 90 L94 99 Z" fill="#b97c14"/>
<path d="M71 99 L69 118 L66 144 L68 144 L71 118 L72.5 100 Z" fill="#b97c14"/>
<path d="M72.5 100 L80 92 L79 104 L75 124 L72 144 L68 144 L71 118 Z" fill="#dc9b24"/>
<circle cx="75.6" cy="104.7" r="1.7" fill="#3d6b75"/>
<circle cx="70.6" cy="122" r="1.7" fill="#3a5f70"/>
<circle cx="66.3" cy="136.8" r="1.7" fill="#e8dcc0"/>
<circle cx="81.5" cy="90.4" r="1.7" fill="#5d8a86"/>
<path d="M84 121 L105 121 L105 123 L84 123 Z" fill="#d6961f" opacity="0.6"/>
<path d="M105 144 Q110 138 114 136 Q116 137 114 139.5 Q118 138.5 119 141 L118 144 Z" fill="#d9a078"/>
</g>
<g fill="#7c8a55" opacity="0.75">
<circle cx="83.0" cy="128.6" r="0.45"/>
<circle cx="102.7" cy="139.0" r="0.45"/>
<circle cx="96.3" cy="138.0" r="0.45"/>
<circle cx="15.3" cy="114.2" r="0.45"/>
<circle cx="119.5" cy="123.7" r="0.45"/>
<circle cx="114.7" cy="95.9" r="0.45"/>
<circle cx="65.5" cy="102.8" r="0.45"/>
<circle cx="74.0" cy="119.8" r="0.45"/>
<circle cx="43.9" cy="137.6" r="0.45"/>
<circle cx="99.3" cy="98.3" r="0.45"/>
<circle cx="102.9" cy="97.2" r="0.45"/>
<circle cx="12.2" cy="135.3" r="0.45"/>
<circle cx="35.9" cy="101.2" r="0.45"/>
<circle cx="124.0" cy="135.4" r="0.45"/>
<circle cx="45.0" cy="140.0" r="0.45"/>
<circle cx="73.5" cy="125.2" r="0.45"/>
<circle cx="35.3" cy="138.9" r="0.45"/>
<circle cx="90.7" cy="140.3" r="0.45"/>
<circle cx="113.9" cy="105.5" r="0.45"/>
<circle cx="53.2" cy="98.6" r="0.45"/>
<circle cx="28.6" cy="93.4" r="0.45"/>
<circle cx="46.4" cy="121.4" r="0.45"/>
<circle cx="12.4" cy="125.3" r="0.45"/>
<circle cx="50.5" cy="106.1" r="0.45"/>
<circle cx="105.3" cy="115.0" r="0.45"/>
<circle cx="48.0" cy="115.0" r="0.45"/>
<circle cx="92.3" cy="93.0" r="0.45"/>
<circle cx="97.5" cy="133.9" r="0.45"/>
<circle cx="14.1" cy="131.0" r="0.45"/>
<circle cx="53.7" cy="120.1" r="0.45"/>
<circle cx="32.6" cy="139.7" r="0.45"/>
<circle cx="34.4" cy="129.3" r="0.45"/>
<circle cx="118.0" cy="139.0" r="0.45"/>
<circle cx="51.3" cy="108.4" r="0.45"/>
<circle cx="71.8" cy="130.3" r="0.45"/>
<circle cx="24.3" cy="128.9" r="0.45"/>
<circle cx="102.9" cy="134.7" r="0.45"/>
<circle cx="16.2" cy="139.2" r="0.45"/>
<circle cx="22.4" cy="107.7" r="0.45"/>
<circle cx="81.6" cy="137.7" r="0.45"/>
<circle cx="50.8" cy="138.1" r="0.45"/>
<circle cx="74.1" cy="106.2" r="0.45"/>
<circle cx="48.1" cy="99.2" r="0.45"/>
<circle cx="20.9" cy="97.7" r="0.45"/>
<circle cx="90.6" cy="141.8" r="0.45"/>
<circle cx="30.4" cy="92.5" r="0.45"/>
<circle cx="124.5" cy="117.7" r="0.45"/>
<circle cx="58.3" cy="102.3" r="0.45"/>
<circle cx="79.7" cy="133.0" r="0.45"/>
<circle cx="63.9" cy="111.9" r="0.45"/>
<circle cx="18.4" cy="137.6" r="0.45"/>
<circle cx="15.7" cy="115.7" r="0.45"/>
<circle cx="107.6" cy="96.8" r="0.45"/>
<circle cx="95.4" cy="139.4" r="0.45"/>
<circle cx="83.9" cy="131.0" r="0.45"/>
<circle cx="24.2" cy="112.6" r="0.45"/>
<circle cx="29.0" cy="133.9" r="0.45"/>
<circle cx="45.6" cy="113.6" r="0.45"/>
<circle cx="125.9" cy="134.3" r="0.45"/>
<circle cx="123.3" cy="113.6" r="0.45"/>
</g>
<g filter="url(#b05)">
<path d="M57 40 Q58 26 64 20 Q70 15 76 15 Q86 16 91 24 Q94.5 32 94 42 L95 53 Q94 62 89 68 Q82 75.5 75 75.5 Q68 74 62 66 Q56 58 55.5 51 Z" fill="#cc8d5f"/>
</g>
<clipPath id="f5"><path d="M57 40 Q58 26 64 20 Q70 15 76 15 Q86 16 91 24 Q94.5 32 94 42 L95 53 Q94 62 89 68 Q82 75.5 75 75.5 Q68 74 62 66 Q56 58 55.5 51 Z"/></clipPath>
<g clip-path="url(#f5)"><g filter="url(#b2)">
<ellipse cx="73" cy="26" rx="10" ry="6" fill="#e7b083"/>
<ellipse cx="63" cy="49" rx="5" ry="5" fill="#e9b184"/>
<ellipse cx="90" cy="50" rx="3.5" ry="4.5" fill="#e6ac80"/>
<ellipse cx="76" cy="45" rx="2.4" ry="6" fill="#e7b083"/>
<path d="M60 62 Q68 74 76 75 Q86 72 92 60 L90 70 Q82 78 75 78 Q66 76 60 62 Z" fill="#a56940"/>
<path d="M56 36 L60 36 L59 56 L56 56 Z" fill="#a56940"/>
</g></g>
<g filter="url(#b05)">
<path d="M61 34.6 Q66.5 32.4 72.5 33.4 L72.3 34.8 Q66.5 34 61.3 36 Z" fill="#30201a"/>
<path d="M80 33.8 Q86 33 90.8 35.8 L90.4 36.9 Q86 34.6 80.2 35.1 Z" fill="#30201a"/>
<ellipse cx="66.3" cy="38.3" rx="3.5" ry="1.4" fill="#33211a"/>
<ellipse cx="86" cy="39.6" rx="3.3" ry="1.4" fill="#33211a"/>
<path d="M71.5 50 Q76 52.4 81 50.2 L80.6 51.6 Q76 53.6 72 51.4 Z" fill="#9a5f3c"/>
<path d="M64.8 56.4 Q75 54.6 85.8 57 Q82 64.4 75.5 64.4 Q68.5 64 64.8 56.4 Z" fill="#c2544d"/>
<path d="M66.6 57.2 Q75 55.8 84 57.6 Q81 61.2 75.5 61.3 Q70 61 66.6 57.2 Z" fill="#f8f4f0"/>
</g>
<g filter="url(#b05)">
<path d="M57.5 42 Q56 30 62 21 Q68 15 76 15 Q86 15 91 23 Q95 31 94.5 42 Q97 50 95.5 58 Q101 50 100 38 Q99 24 92 15 Q84 8 75 8.5 Q64 9 57 18 Q51 27 51 38 Q49 48 51 58 L56 64 Q55 54 57.5 42 Z" fill="#38261e"/>
<path d="M78 12 Q88 14 93 24 Q97 34 96.5 46 Q99 36 96 26 Q92 15 78 12 Z" fill="#5a3a29" opacity="0.6"/>
</g></svg></div>
    <div class="av" style="left:840px"><svg viewBox="0 0 144 144" width="144" height="144"><g filter="url(#b05)">
<path d="M60 74 L52.5 83 L50 96 Q60 105 71 105 Q82 104 91 98 L89.5 76 Z" fill="#5c301d"/>
<path d="M60 78 Q74 92 90 80 L90 90 Q76 98 58 88 Z" fill="#3c1e12" filter="url(#b1)"/>
<path d="M52.3 94.8 Q60 103 70 103.8 Q82 103 90 96.8 L86 110 L85 144 L54 144 L58 110 Z" fill="#f8ddc9"/>
<path d="M52.3 94.8 Q60 103 70 103.8 Q82 103 90 96.8 L89.5 99 Q82 105.5 70 106 Q60 105 53 97.5 Z" fill="#ecc9b2"/>
<path d="M53.3 80 L39.5 89 L20 95 L6 113.5 L0 128.5 L0 144 L54.3 144 L59.3 108.6 L51.4 94.8 Z" fill="#cdc096"/>
<path d="M53.3 80 L51.4 94.8 L59.3 108.6 L47.4 112.6 L49 96 Z" fill="#d8cca5"/>
<path d="M47.4 112.6 L59.3 108.6 L58.6 111 L48 114.5 Z" fill="#9a8c62"/>
<path d="M59.3 108.6 L54.3 144 L50.5 144 L55.5 110 Z" fill="#b3a57b"/>
<path d="M20 95 L6 113.5 L0 128.5 L0 144 L12 144 L14 120 Z" fill="#bdb086"/>
<path d="M28 100 Q32 120 28 144 L33 144 Q36 120 28 100 Z" fill="#b8aa80" opacity="0.8"/>
<path d="M40 104 Q44 124 42 144 L45 144 Q47 124 40 104 Z" fill="#b8aa80" opacity="0.6"/>
<path d="M88.9 83 L94 89 L118.5 98.8 L131.5 113.6 L138.3 133.3 L139.3 144 L84.9 144 L84 108.6 L90 96.8 Z" fill="#cfc298"/>
<path d="M88.9 83 L90 96.8 L84 108.6 L92.5 111 L96 100 L94 89 Z" fill="#d8cca5"/>
<path d="M84 108.6 L84.9 144 L91 144 L90 112 Z" fill="#c3b58b"/>
<path d="M118.5 98.8 L131.5 113.6 L138.3 133.3 L139.3 144 L128 144 L126 120 Z" fill="#c0b389"/>
<path d="M104 104 Q102 124 106 144 L110 144 Q105 124 104 104 Z" fill="#b8aa80" opacity="0.7"/>
</g>
<g filter="url(#b05)" fill="#d89a54" opacity="0.9">
<path d="M99 92.5 Q105 92 111 96.5 Q108 99.5 103 98 Q99 96 99 92.5 Z"/>
<ellipse cx="124.5" cy="112" rx="4" ry="6"/>
<path d="M84.5 116 L90.5 116 L91 144 L85 144 Z"/>
<ellipse cx="87" cy="108" rx="2.5" ry="2.5"/>
<path d="M6 114 Q10 110 12 116 Q13 122 9 125 Q5 126 3.5 121 Z"/>
<ellipse cx="133" cy="137" rx="3.5" ry="4.5"/>
</g>
<circle cx="51.3" cy="132.5" r="1.5" fill="#d9d3c6" filter="url(#b05)"/>
<g filter="url(#b05)">
<ellipse cx="57.6" cy="54" rx="2.6" ry="6" fill="#5a2e1b"/>
<ellipse cx="100.2" cy="60" rx="2.6" ry="6" fill="#4a2415"/>
<path d="M59.5 42 Q61 30 70 28 Q80 24 92 29 Q100 33 100.5 44 L100 58 Q99 68 93.5 76 Q86 86 76 87 Q68 86 62 76 Q58 66 57.8 56 Z" fill="#7a452a"/>
</g>
<clipPath id="f6"><path d="M59.5 42 Q61 30 70 28 Q80 24 92 29 Q100 33 100.5 44 L100 58 Q99 68 93.5 76 Q86 86 76 87 Q68 86 62 76 Q58 66 57.8 56 Z"/></clipPath>
<g clip-path="url(#f6)"><g filter="url(#b2)">
<ellipse cx="80" cy="36" rx="10" ry="5" fill="#bb7a4e"/>
<ellipse cx="66" cy="58" rx="5" ry="5" fill="#b06d44"/>
<ellipse cx="78.5" cy="55" rx="3" ry="6" fill="#c07f52"/>
<ellipse cx="92" cy="62" rx="3" ry="4" fill="#8b4f2f"/>
<path d="M59 60 Q62 78 76 88 Q88 84 96 70 L100 58 L101 80 L76 92 L56 80 Z" fill="#3e2014"/>
<path d="M96 34 L102 38 L101 58 Q97 48 96 34 Z" fill="#3e2014"/>
</g></g>
<g filter="url(#b05)">
<path d="M65 79 Q70 86.5 76 87.8 Q82 87 86 81 Q80 84 76 84 Q70 83 65 79 Z" fill="#1e110b"/>
<path d="M73 75.5 L78 75.8 L77 79 L74 78.8 Z" fill="#1e110b"/>
<path d="M62.5 62 Q70 60.5 78 62.5 Q86 64 91 68.5 L90 69.5 Q84 66 77.5 64.5 Q70 62.6 63 63.6 Z" fill="#24140d"/>
<path d="M64 41.5 Q70 40.4 75.5 42.4 L75 44.2 Q70 42.4 64.4 43.4 Z" fill="#1e110b"/>
<path d="M85.5 46 Q91 46 96 48.8 L95.4 50.2 Q91 47.8 85.6 47.6 Z" fill="#1e110b"/>
<ellipse cx="70" cy="48.4" rx="3.5" ry="1.4" fill="#1f120c" transform="rotate(8 70 48.4)"/>
<ellipse cx="88.8" cy="52.2" rx="3.3" ry="1.4" fill="#1f120c" transform="rotate(10 88.8 52.2)"/>
<path d="M73 59.5 Q78 62 83.5 60.6 L83 61.8 Q78 63.4 73.4 60.8 Z" fill="#3a1d11"/>
<path d="M64 64.4 Q76 64.6 89 68.4 Q84 75.4 75.5 74.6 Q67.5 73.4 64 64.4 Z" fill="#7a3a33"/>
<path d="M65.6 65.2 Q76 65.6 87 68.8 Q82.5 72.2 75.8 71.4 Q69 70.4 65.6 65.2 Z" fill="#f7f3ef"/>
<path d="M69 72.6 Q75.5 75 82 74 Q78 76.6 74.5 76.2 Q71 75.6 69 72.6 Z" fill="#b46b5c"/>
</g>
<g filter="url(#b05)">
<path d="M59.5 44 Q58 36 62 30 Q61 22 66 19 Q72 15 80 14.5 Q88 13 96 16 Q104 18 107 25 Q111 31 110 38 Q110 46 106 51 L101 50 Q101.5 41 98.5 35.5 Q93 29 87 28 Q78 26.5 71 28.8 Q63 32 61.5 44 Z" fill="#2a1a14"/>
<path d="M59.2 29.9 L53.0 33.8 L53.6 35.4 L60.8 34.1 Z" fill="#2a1a14"/>
<path d="M62.3 26.7 L55.1 27.1 L54.9 28.9 L61.7 31.3 Z" fill="#2a1a14"/>
<path d="M64.4 22.7 L57.5 22.8 L57.1 24.6 L63.6 27.3 Z" fill="#2a1a14"/>
<path d="M67.8 18.8 L60.3 17.7 L59.7 19.3 L66.2 23.2 Z" fill="#2a1a14"/>
<path d="M70.2 17.0 L63.7 14.7 L62.7 16.3 L67.8 21.0 Z" fill="#2a1a14"/>
<path d="M74.6 16.4 L69.6 13.4 L68.4 14.6 L71.4 19.6 Z" fill="#2a1a14"/>
<path d="M79.5 15.2 L75.6 13.8 L74.4 15.2 L76.5 18.8 Z" fill="#2a1a14"/>
<path d="M84.1 15.1 L80.8 11.1 L79.2 11.9 L79.9 16.9 Z" fill="#2a1a14"/>
<path d="M88.3 15.8 L86.3 10.4 L84.5 10.6 L83.7 16.2 Z" fill="#2a1a14"/>
<path d="M92.3 17.0 L90.9 12.5 L89.1 12.5 L87.7 17.0 Z" fill="#2a1a14"/>
<path d="M96.3 18.3 L95.7 12.5 L93.9 12.3 L91.7 17.7 Z" fill="#2a1a14"/>
<path d="M100.3 19.4 L99.9 13.1 L98.1 12.9 L95.7 18.6 Z" fill="#2a1a14"/>
<path d="M103.2 20.6 L103.6 14.2 L101.8 13.8 L98.8 19.4 Z" fill="#2a1a14"/>
<path d="M104.8 24.4 L107.7 18.6 L106.3 17.4 L101.2 21.6 Z" fill="#2a1a14"/>
<path d="M106.2 29.0 L111.1 24.3 L110.1 22.7 L103.8 25.0 Z" fill="#2a1a14"/>
<path d="M106.6 33.2 L113.2 29.9 L112.8 28.1 L105.4 28.8 Z" fill="#2a1a14"/>
<path d="M106.7 38.3 L115.1 37.9 L115.3 36.1 L107.3 33.7 Z" fill="#2a1a14"/>
<path d="M105.3 43.2 L111.7 43.9 L112.3 42.1 L106.7 38.8 Z" fill="#2a1a14"/>
<path d="M102.2 47.5 L107.8 52.1 L109.2 50.9 L105.8 44.5 Z" fill="#2a1a14"/>
<path d="M103.8 46.0 L109.5 47.8 L110.5 46.2 L106.2 42.0 Z" fill="#2a1a14"/>
<path d="M55.6 33.7 L53.3 34.6" stroke="#7d4e2e" stroke-width="1.6" stroke-linecap="round"/>
<path d="M59.6 24.2 L57.3 23.7" stroke="#7d4e2e" stroke-width="1.6" stroke-linecap="round"/>
<path d="M65.2 16.7 L63.2 15.5" stroke="#7d4e2e" stroke-width="1.6" stroke-linecap="round"/>
<path d="M76.0 15.4 L75.0 14.5" stroke="#7d4e2e" stroke-width="1.6" stroke-linecap="round"/>
<path d="M85.6 12.4 L85.4 10.5" stroke="#7d4e2e" stroke-width="1.6" stroke-linecap="round"/>
<path d="M94.5 14.4 L94.8 12.4" stroke="#7d4e2e" stroke-width="1.6" stroke-linecap="round"/>
<path d="M102.1 16.1 L102.7 14.0" stroke="#7d4e2e" stroke-width="1.6" stroke-linecap="round"/>
<path d="M108.6 24.7 L110.6 23.5" stroke="#7d4e2e" stroke-width="1.6" stroke-linecap="round"/>
<path d="M112.3 36.6 L115.2 37.0" stroke="#7d4e2e" stroke-width="1.6" stroke-linecap="round"/>
<path d="M106.9 49.6 L108.5 51.5" stroke="#7d4e2e" stroke-width="1.6" stroke-linecap="round"/>
<ellipse cx="70" cy="19.5" rx="2" ry="0.9" fill="#7d4e2e" transform="rotate(-50 70 19.5)"/>
<ellipse cx="74" cy="21" rx="2" ry="0.9" fill="#7d4e2e" transform="rotate(-70 74 21)"/>
<ellipse cx="98" cy="27" rx="2" ry="0.9" fill="#7d4e2e" transform="rotate(40 98 27)"/>
<ellipse cx="102" cy="31" rx="2" ry="0.9" fill="#7d4e2e" transform="rotate(30 102 31)"/>
<ellipse cx="66" cy="24" rx="2" ry="0.9" fill="#7d4e2e" transform="rotate(-30 66 24)"/>
</g></svg></div>
    <div class="av" style="left:1008px"><svg viewBox="0 0 144 144" width="144" height="144"><g filter="url(#b05)">
  <path d="M53 80 L53 94 L62 112 L76 118.5 L84 112 L88 94 L88 80 Z" fill="#c18d6b"/>
  <path d="M53 86 Q70 100 88 86 L88 97 Q72 106 54 97 Z" fill="#9a6a4c" filter="url(#b1)"/>
  <path d="M49.9 88.9 L54 93 L62 108 L66 106.5 L76 118 L79 112 L84 110 L87 94 L89.4 87.9 L89.4 100 L85 114 L78 144 L63.2 144 L56.5 114 L50 100 Z" fill="#adb3cf"/>
  <path d="M49.9 88.9 L54 93 L62 108 L66 106.5 L60 113 L57 114 Z" fill="#bfc5dc"/>
  <path d="M89.4 87.9 L87 94 L84 110 L79 112 L83 115.5 L86 113 Z" fill="#9096b6"/>
  <path d="M76 118 L71 144 L75 144 L77.5 119 Z" fill="#8d93b3"/>
  <path d="M66 106.5 L76 118 L70 128 L66 144 L63.2 144 L58 118 L60 113 Z" fill="#b4bad4"/>
  <circle cx="61.8" cy="111.6" r="1.1" fill="#6d7698"/>
  <circle cx="71.6" cy="129.6" r="1.5" fill="#66709a"/>
  <path d="M49.9 89 L44 95 L29.6 103.7 L6 113.6 L1 118.5 L0 122 L0 144 L63.2 144 L56.3 113.6 Z" fill="#1f2738"/>
  <path d="M89.4 88 L95 94 L108.6 101.7 L136.3 110.6 L142.2 123.5 L144 144 L78 144 L84.9 113.6 Z" fill="#1e2636"/>
  <path d="M49.9 89 L56.3 113.6 L63.2 144 L57 144 L38 114 L30.6 109.6 L44 104 Z" fill="#283145"/>
  <path d="M89.4 88 L84.9 113.6 L78 144 L84 144 L111.6 117.5 L103 111 L109.6 106.7 Z" fill="#161c29"/>
  <path d="M30.6 109.6 L38 114 L36 116 Z" fill="#0f131c"/>
  <path d="M96 122 L102 124.5 L101.6 125.3 L95.6 122.8 Z" fill="#0f131c"/>
  <path d="M1 118.5 L10 124 L16 144 L0 144 Z" fill="#171d2a"/>
  <path d="M142.2 123.5 L134 118 L128 144 L144 144 Z" fill="#171d2a"/>
</g>
<g filter="url(#b05)">
  <ellipse cx="43.6" cy="57" rx="2.8" ry="7" fill="#c08c6a"/>
  <ellipse cx="94.6" cy="59.5" rx="2.8" ry="7.5" fill="#a87656"/>
  <path d="M46.5 44 Q48 30 58 26 Q70 22 84 27 Q92 32 92.5 46 L92.8 58 Q92 72 85 85 Q78 94 69 94 Q60 93 53.5 84 Q47.5 72 46 58 Z" fill="#cb9876"/>
</g>
<clipPath id="f7"><path d="M46.5 44 Q48 30 58 26 Q70 22 84 27 Q92 32 92.5 46 L92.8 58 Q92 72 85 85 Q78 94 69 94 Q60 93 53.5 84 Q47.5 72 46 58 Z"/></clipPath>
<g clip-path="url(#f7)"><g filter="url(#b2)">
  <ellipse cx="68" cy="36" rx="13" ry="7" fill="#e4b695"/>
  <ellipse cx="56" cy="62" rx="5" ry="5.5" fill="#e2b18f"/>
  <ellipse cx="68.5" cy="58" rx="2.6" ry="7" fill="#e4b695"/>
  <ellipse cx="82" cy="62" rx="4" ry="5" fill="#d8a682"/>
  <path d="M88 40 L94 40 L93 70 L86 84 L82 82 Q89 66 88 40 Z" fill="#9a694b"/>
  <path d="M46 62 Q48 76 54 85 Q62 95 70 95 Q80 94 86 84 Q91 74 92.5 62 Q88 70 84 73 Q80 69 70 68.5 Q60 69 56 73 Q50 70 46 62 Z" fill="#9c938c"/>
  <path d="M56 73 Q60 69 70 68.5 Q80 69 84 73 Q80 71.6 70 71.2 Q60 71.6 56 73 Z" fill="#6e5c52"/>
  <path d="M60 88 Q70 93 80 87 L78 93 Q70 97 62 93 Z" fill="#c9c5c0"/>
</g></g>
<g filter="url(#b05)">
  <path d="M49.5 49.6 Q56 46.8 63.5 47.6 L63.3 49.2 Q56 48.8 49.9 51.2 Z" fill="#4a3a32"/>
  <path d="M73 48 Q80 47 87 49.6 L86.7 51 Q80 48.8 73.2 49.6 Z" fill="#4a3a32"/>
  <ellipse cx="57.8" cy="52.2" rx="3.6" ry="1.4" fill="#4a3a33"/>
  <ellipse cx="80" cy="51.8" rx="3.6" ry="1.4" fill="#4a3a33"/>
  <path d="M64.5 65 Q68.5 67.2 73 65.2 L72.6 66.6 Q68.5 68.4 65 66.6 Z" fill="#9a6849"/>
  <path d="M56.5 73.4 Q60 69.4 70 68.8 Q80 69.4 83.5 73.4 Q78 71.8 70 71.6 Q62 71.8 56.5 73.4 Z" fill="#6a584e" filter="url(#b05)"/>
  <path d="M59 73.6 Q70 75.6 81.5 73.4 Q76 77.8 70 77.8 Q64 77.6 59 73.6 Z" fill="#b2685c"/>
  <path d="M59 73.6 Q70 75.8 81.5 73.4 L81 74.2 Q70 76.8 59.6 74.4 Z" fill="#7a463c"/>
</g>
<g filter="url(#b05)">
  <path d="M43.5 52 Q41 44 41 35 Q42 26 46 20 Q50 14 56 11 Q64 7.5 75 8 Q84 9 89 13 Q95 19 96 26 Q98 32 97.3 38 Q97.5 46 95 52 L92.6 52 Q93 44 91.5 39 Q90 32 86.5 28.5 Q80 24 73 23.8 Q62 24 55.5 27.8 Q50 32 48.5 38 Q47 44 46.6 52 Z" fill="#6e645e"/>
  <path d="M46.5 36 Q47 23 55 15.5 Q64 10 75 10.5 Q85 11.5 90 17 Q95.5 24 95 36 Q93 31 86.5 28.5 Q80 24 73 23.8 Q62 24 55.5 27.8 Q49 31 46.5 36 Z" fill="#544b46"/>
  <path d="M54 18 Q62 12 72 12 Q64 15 58 22 Z M76 12 Q84 13 89 19 Q82 16 76 15 Z" fill="#7d736d" opacity="0.8"/>
  <path d="M43.5 52 Q41 44 41.5 36 Q43 30 46 26 Q46 34 47 38 Q46.5 44 46.6 52 Z" fill="#a9a5a1"/>
  <path d="M95 52 Q97.5 46 97.3 38 Q96 32 94 28 Q93 34 92 39 Q93 44 92.6 52 Z" fill="#9a9692"/>
</g>
</svg></div>
    <div class="av" style="left:1176px"><svg viewBox="0 0 144 144" width="144" height="144"><g filter="url(#b05)">
  <path d="M64 6 Q54 8 49 16 Q45 21 46 26 Q50 30 49 34 Q43 42 42.5 48 Q43 56 46.5 60 Q47 68 49.5 72 Q54 74 57.5 72 L62 60 L62 30 L90 20 L90 8 Q78 4 64 6 Z" fill="#2a2627"/>
  <path d="M46 40 Q40 48 43 56 M44 50 Q42 60 48 68 M48 58 Q46 66 50 70" stroke="#8a6048" stroke-width="0.7" fill="none"/>
</g>
<g filter="url(#b05)">
  <path d="M61 56 L59 80 L69 104 L90 100 L90 56 Z" fill="#efc6ab"/>
  <path d="M61 62 Q72 72 86 64 L86 72 Q72 80 60 72 Z" fill="#d9a98c" filter="url(#b1)"/>
  <path d="M63 89 Q70 93.5 79 88" fill="none" stroke="#b98a5a" stroke-width="0.6"/>
  <path d="M59.3 71 L53.3 79 L32.6 86 L27.7 99 L26.7 128 L24.7 144 L100 144 L100 80 L82 84 L69 104 L60.2 77 Z" fill="#ecba50"/>
  <path d="M32.6 86 L27.7 99 L26.7 128 L24.7 144 L38 144 L40 120 L36 100 Z" fill="#dda840"/>
  <path d="M59.3 71 L47.4 92.8 L60.5 87 L63.5 88 L60.2 77 Z" fill="#f2c460"/>
  <path d="M47.4 92.8 L60.5 87 L61 88.5 L48 94.5 Z" fill="#b8842c"/>
  <path d="M69 104 L68 144 L70.5 144 L71 104 Z" fill="#c48e30"/>
  <circle cx="74.6" cy="101.2" r="1.2" fill="#7f8088"/>
  <circle cx="69.3" cy="121" r="1.2" fill="#7f8088"/>
  <circle cx="67.7" cy="139.8" r="1.2" fill="#7f8088"/>
</g>
<g filter="url(#b05)">
  <path d="M55 32 Q56 22 63 18 Q72 13 84 14 L92 16 L92 60 Q82 66 72 65.5 Q64 63 60 56 Q55 48 55 40 Z" fill="#f3d0b8"/>
  <path d="M57.5 33.6 Q60 32 63.5 32.6 L63.4 33.6 Q60 33.2 57.7 34.6 Z M72 32.4 Q76 31.4 80 32.8 L79.8 33.8 Q76 32.6 72.1 33.5 Z" fill="#4a3a36"/>
  <ellipse cx="60.4" cy="36" rx="2.6" ry="1.1" fill="#4a3a36"/>
  <ellipse cx="76" cy="35.4" rx="2.8" ry="1.1" fill="#4a3a36"/>
  <path d="M66 45 Q68.5 46.4 71.5 45.2 L71.2 46.2 Q68.5 47.4 66.3 46.1 Z" fill="#d19f84"/>
  <path d="M62 50.2 Q70 49 77.5 50.4 Q75 56 69.5 56 Q64.5 55.6 62 50.2 Z" fill="#cf7c72"/>
  <path d="M63.4 50.8 Q70 49.8 76.2 51 Q74 53.6 69.6 53.7 Q65.4 53.4 63.4 50.8 Z" fill="#faf6f3"/>
  <path d="M56 36 Q55 26 62 19 Q70 13 84 13.5 L92 15 L92 7 L64 8 L52 18 L50 32 L54 40 Z" fill="#2a2627"/>
</g>
</svg></div>
    <div class="fade"></div>
  </div>

  <h2 class="abs h" id="t2" style="left:120px; top:446px; transform:scaleX(0.925); word-spacing:-3px;">Survey Results</h2>

  <p class="abs q" id="q1a" style="left:122.5px; top:552px;">What is the number one pain point your teams experience</p>
  <p class="abs q" id="q1b" style="left:122.5px; top:609px; letter-spacing:0.15px; word-spacing:-5px;">when releasing code?</p>

  <div class="pill" style="top:711px"></div>
  <div class="bar" style="top:696px"><i class="b" style="width:441px"></i><i class="p" style="left:441px;width:330px"></i></div>
  <div class="pill" style="top:816px"></div>
  <div class="bar" style="top:801px"><i class="b" style="width:837px"></i><i class="p" style="left:837px;width:102px"></i></div>
  <div class="pill" style="top:921px"></div>
  <div class="bar" style="top:906px"><i class="b" style="width:441px"></i><i class="p" style="left:441px;width:330px"></i></div>
  <div class="pill" style="top:1026px"></div>
  <div class="bar" style="top:1011px"><i class="b" style="width:837px"></i><i class="p" style="left:837px;width:102px"></i></div>
  <div class="pill" style="top:1131px"></div>
  <div class="bar" style="top:1116px"><i class="b" style="width:183px"></i><i class="p" style="left:183px;width:81px"></i></div>

  <p class="abs q" id="q2" style="left:122.5px; top:1236px; letter-spacing:0.9px;">What is your average yearly budget <span style="letter-spacing:3px">for A</span>I<span style="letter-spacing:1.2px; word-spacing:-7px"> related </span><span style="letter-spacing:-0.3px">tools?</span></p>

  <div class="pill" style="top:1338px"></div>
  <div class="bar" style="top:1323px"><i class="b" style="width:126px"></i><i class="p" style="left:126px;width:735px"></i></div>
</div>
</body>
</html>
